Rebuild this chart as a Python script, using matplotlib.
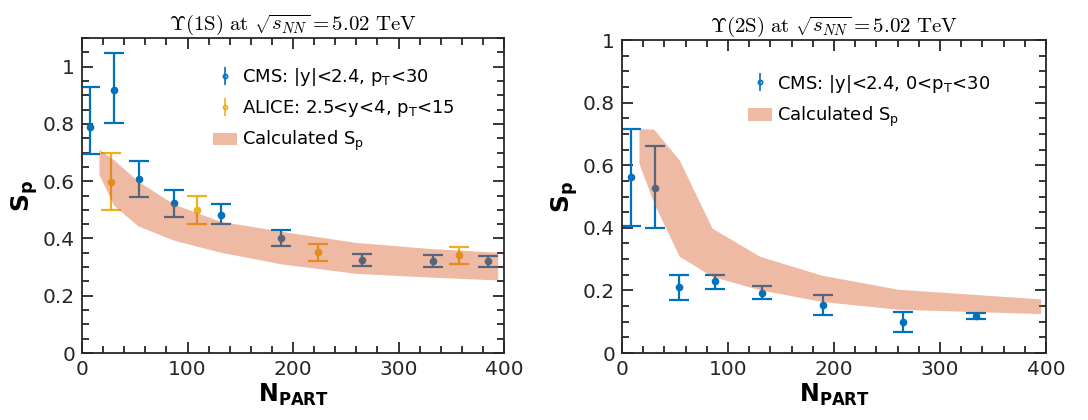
import matplotlib
matplotlib.use("Agg")
import matplotlib.pyplot as plt
from matplotlib.patches import Patch
from matplotlib.ticker import MultipleLocator, FuncFormatter

# Upsilon(1S) data
cms1_npart = [8, 30, 54, 87, 132, 189, 265, 333, 385]
cms1_sp = [0.79, 0.92, 0.607, 0.523, 0.483, 0.403, 0.325, 0.322, 0.32]
cms1_lo = [0.694, 0.804, 0.544, 0.476, 0.45, 0.375, 0.305, 0.302, 0.299]
cms1_hi = [0.93, 1.048, 0.672, 0.568, 0.52, 0.43, 0.346, 0.342, 0.339]

alice1_npart = [27, 109, 224, 357]
alice1_sp = [0.597, 0.499, 0.352, 0.341]
alice1_lo = [0.499, 0.451, 0.321, 0.311]
alice1_hi = [0.698, 0.549, 0.382, 0.371]

band1_npart = [16, 30, 53, 87, 131, 189, 260, 330, 394]
band1_lo = [0.624, 0.516, 0.444, 0.394, 0.352, 0.311, 0.278, 0.265, 0.255]
band1_hi = [0.711, 0.675, 0.60, 0.52, 0.46, 0.425, 0.386, 0.365, 0.352]

# Upsilon(2S) data
cms2_npart = [8.5, 31, 54, 88, 132, 190, 265, 334]
cms2_sp = [0.561, 0.527, 0.21, 0.229, 0.191, 0.153, 0.099, 0.119]
cms2_lo = [0.407, 0.398, 0.171, 0.204, 0.173, 0.121, 0.068, 0.109]
cms2_hi = [0.717, 0.66, 0.248, 0.25, 0.213, 0.184, 0.13, 0.128]

band2_npart = [16, 30, 54, 85, 130, 188, 260, 395]
band2_lo = [0.606, 0.479, 0.309, 0.245, 0.202, 0.165, 0.14, 0.126]
band2_hi = [0.717, 0.715, 0.617, 0.399, 0.309, 0.249, 0.204, 0.173]

BLUE = "#0072BD"
YELLOW = "#EDB120"
BAND = "#D95319"
AXC = "#262626"

plt.rcParams["font.family"] = "DejaVu Sans"

fig = plt.figure(figsize=(10.88, 4.2), dpi=100)
ax1 = fig.add_axes([0.0754, 0.1595, 0.3879, 0.75])
ax2 = fig.add_axes([0.5717, 0.1595, 0.3897, 0.745])


def yerr(v, lo, hi):
    return [[a - b for a, b in zip(v, lo)], [c - a for a, c in zip(v, hi)]]


def style(ax, ymax):
    ax.set_xlim(0, 400)
    ax.set_ylim(0, ymax)
    ax.xaxis.set_major_locator(MultipleLocator(100))
    ax.xaxis.set_minor_locator(MultipleLocator(20))
    ax.yaxis.set_major_locator(MultipleLocator(0.2))
    ax.yaxis.set_minor_locator(MultipleLocator(0.05))
    ax.yaxis.set_major_formatter(FuncFormatter(lambda v, p: "%g" % round(v, 2)))
    ax.tick_params(which="both", direction="in", top=True, right=True,
                   colors=AXC, labelsize=14.5, width=1.3)
    ax.tick_params(which="major", length=8, pad=5)
    ax.tick_params(which="minor", length=5)
    for s in ax.spines.values():
        s.set_color(AXC)
        s.set_linewidth(1.3)
    ax.set_xlabel(r"$\mathbf{N_{PART}}$", fontsize=17, color="black", labelpad=2)
    ax.set_ylabel(r"$\mathbf{S_p}$", fontsize=18, color="black", labelpad=2)


def proxy(ax, color):
    # small legend handle like the original
    return ax.errorbar([], [], yerr=[], fmt="o", markersize=3, mfc="none",
                       mew=1.2, capsize=2, capthick=1.2, elinewidth=1.2,
                       color=color)


def add_legend(ax, handles, labels, anchor):
    handles = handles + [Patch(facecolor=BAND, alpha=0.4, edgecolor="none")]
    labels = labels + [r"Calculated S$_\mathregular{p}$"]
    ax.legend(handles, labels, loc="upper left", bbox_to_anchor=anchor,
              frameon=False, fontsize=13, handlelength=1.3, handletextpad=0.3,
              labelspacing=0.55)


eb = dict(fmt="o", markersize=4.5, capsize=7, capthick=1.6, elinewidth=1.6)

# left panel
ax1.errorbar(cms1_npart, cms1_sp, yerr=yerr(cms1_sp, cms1_lo, cms1_hi),
             color=BLUE, **eb)
ax1.errorbar(alice1_npart, alice1_sp, yerr=yerr(alice1_sp, alice1_lo, alice1_hi),
             color=YELLOW, **eb)
ax1.fill_between(band1_npart, band1_lo, band1_hi, color=BAND, alpha=0.4,
                 linewidth=0, zorder=5)
style(ax1, 1.1)
add_legend(ax1, [proxy(ax1, BLUE), proxy(ax1, YELLOW)],
           [r"CMS: |y|<2.4, p$_\mathregular{T}$<30",
            r"ALICE: 2.5<y<4, p$_\mathregular{T}$<15"], (0.272, 0.962))
ax1.set_title(r"$\Upsilon(1\mathrm{S})\ \mathrm{at}\ \sqrt{s_{NN}} = 5.02\ \mathrm{TeV}$",
              fontsize=15, math_fontfamily="cm", pad=6)

# right panel
ax2.errorbar(cms2_npart, cms2_sp, yerr=yerr(cms2_sp, cms2_lo, cms2_hi),
             color=BLUE, **eb)
ax2.fill_between(band2_npart, band2_lo, band2_hi, color=BAND, alpha=0.4,
                 linewidth=0, zorder=5)
style(ax2, 1.0)
add_legend(ax2, [proxy(ax2, BLUE)],
           [r"CMS: |y|<2.4, 0<p$_\mathregular{T}$<30"], (0.26, 0.948))
ax2.set_title(r"$\Upsilon(2\mathrm{S})\ \mathrm{at}\ \sqrt{s_{NN}} = 5.02\ \mathrm{TeV}$",
              fontsize=15, math_fontfamily="cm", pad=6)

fig.savefig("out.png", dpi=100)
